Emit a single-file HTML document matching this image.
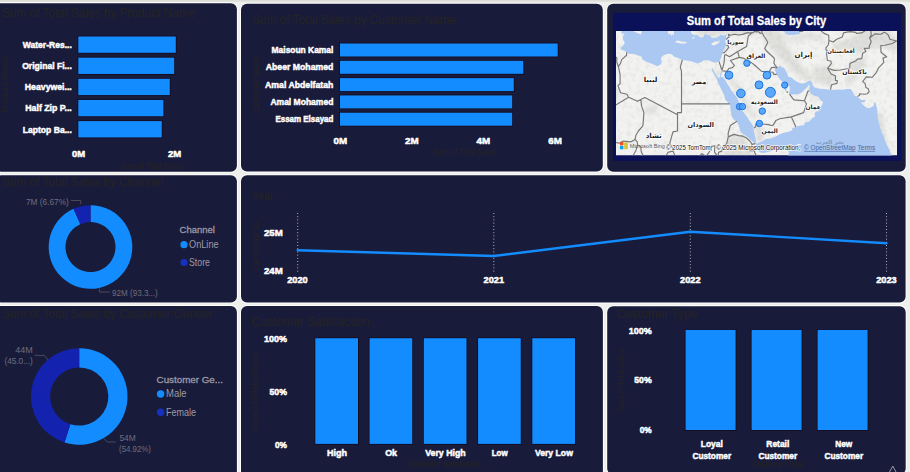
<!DOCTYPE html>
<html><head><meta charset="utf-8"><title>Dashboard</title>
<style>
html,body{margin:0;padding:0;background:#eeeeec;width:910px;height:472px;overflow:hidden}
svg{display:block;font-family:"Liberation Sans", sans-serif}
</style></head><body>
<svg width="910" height="472" viewBox="0 0 910 472">
<rect x="0" y="0" width="910" height="472" fill="#eeeeec"/>
<rect x="0" y="0" width="910" height="1.7" fill="#dcdcd8"/>
<rect x="-5.9" y="2.3000000000000003" width="243.70" height="170.30" rx="6.8" ry="6.8" fill="#ffffff"/>
<rect x="240.1" y="2.9" width="363.60" height="169.60" rx="6.8" ry="6.8" fill="#ffffff"/>
<rect x="606.3000000000001" y="2.9" width="300.30" height="169.80" rx="6.8" ry="6.8" fill="#ffffff"/>
<rect x="-5.9" y="174.4" width="243.70" height="128.90" rx="6.8" ry="6.8" fill="#ffffff"/>
<rect x="240.1" y="174.4" width="666.40" height="129.00" rx="6.8" ry="6.8" fill="#ffffff"/>
<rect x="-5.9" y="305.1" width="243.70" height="177.80" rx="6.8" ry="6.8" fill="#ffffff"/>
<rect x="240.1" y="305.20000000000005" width="363.70" height="177.70" rx="6.8" ry="6.8" fill="#ffffff"/>
<rect x="606.3000000000001" y="305.3" width="300.30" height="170.10" rx="6.8" ry="6.8" fill="#ffffff"/>
<rect x="-5" y="3.2" width="241.90" height="168.50" rx="6" ry="6" fill="#191b3a"/>
<rect x="241" y="3.8" width="361.80" height="167.80" rx="6" ry="6" fill="#191b3a"/>
<rect x="607.2" y="3.8" width="298.50" height="168.00" rx="6" ry="6" fill="#191b3a"/>
<rect x="-5" y="175.3" width="241.90" height="127.10" rx="6" ry="6" fill="#191b3a"/>
<rect x="241" y="175.3" width="664.60" height="127.20" rx="6" ry="6" fill="#191b3a"/>
<rect x="-5" y="306.0" width="241.90" height="176.00" rx="6" ry="6" fill="#191b3a"/>
<rect x="241" y="306.1" width="361.90" height="175.90" rx="6" ry="6" fill="#191b3a"/>
<rect x="607.2" y="306.2" width="298.50" height="168.30" rx="6" ry="6" fill="#191b3a"/>
<text x="2" y="16.5" font-size="12" font-weight="normal" fill="#252423" text-anchor="start" textLength="193.4" lengthAdjust="spacingAndGlyphs" >Sum of Total Sales by Product Name</text>
<rect x="77.50" y="35.70" width="99.10" height="17.90" fill="#140c20"/>
<rect x="78.30" y="36.50" width="97.50" height="16.30" fill="#128cff"/>
<text x="71.8" y="47.9" font-size="9.5" font-weight="bold" fill="#fff" text-anchor="end" textLength="49" lengthAdjust="spacingAndGlyphs" stroke="#ffffff" stroke-width="0.5" stroke-linejoin="round" >Water-Res...</text>
<rect x="77.50" y="56.85" width="97.50" height="17.90" fill="#140c20"/>
<rect x="78.30" y="57.65" width="95.90" height="16.30" fill="#128cff"/>
<text x="71.8" y="69.05" font-size="9.5" font-weight="bold" fill="#fff" text-anchor="end" textLength="49.6" lengthAdjust="spacingAndGlyphs" stroke="#ffffff" stroke-width="0.5" stroke-linejoin="round" >Original Fi...</text>
<rect x="77.50" y="78.00" width="93.10" height="17.90" fill="#140c20"/>
<rect x="78.30" y="78.80" width="91.50" height="16.30" fill="#128cff"/>
<text x="71.8" y="90.2" font-size="9.5" font-weight="bold" fill="#fff" text-anchor="end" textLength="47" lengthAdjust="spacingAndGlyphs" stroke="#ffffff" stroke-width="0.5" stroke-linejoin="round" >Heavywei...</text>
<rect x="77.50" y="99.15" width="86.70" height="17.90" fill="#140c20"/>
<rect x="78.30" y="99.95" width="85.10" height="16.30" fill="#128cff"/>
<text x="71.8" y="111.35" font-size="9.5" font-weight="bold" fill="#fff" text-anchor="end" textLength="46.5" lengthAdjust="spacingAndGlyphs" stroke="#ffffff" stroke-width="0.5" stroke-linejoin="round" >Half Zip P...</text>
<rect x="77.50" y="120.30" width="85.10" height="17.90" fill="#140c20"/>
<rect x="78.30" y="121.10" width="83.50" height="16.30" fill="#128cff"/>
<text x="71.8" y="132.5" font-size="9.5" font-weight="bold" fill="#fff" text-anchor="end" textLength="49" lengthAdjust="spacingAndGlyphs" stroke="#ffffff" stroke-width="0.5" stroke-linejoin="round" >Laptop Ba...</text>
<text x="78.5" y="157.4" font-size="9.5" font-weight="bold" fill="#fff" text-anchor="middle" textLength="13.2" lengthAdjust="spacingAndGlyphs" stroke="#ffffff" stroke-width="0.5" stroke-linejoin="round" >0M</text>
<text x="174.6" y="157.4" font-size="9.5" font-weight="bold" fill="#fff" text-anchor="middle" textLength="13.2" lengthAdjust="spacingAndGlyphs" stroke="#ffffff" stroke-width="0.5" stroke-linejoin="round" >2M</text>
<text x="120" y="168.6" font-size="8.2" font-weight="normal" fill="#252423" text-anchor="start" textLength="62.3" lengthAdjust="spacingAndGlyphs" >Sum of Total Sales</text>
<text transform="translate(8.4,84.7) rotate(-90)" font-size="8.2" fill="#252423" text-anchor="middle" textLength="55.9" lengthAdjust="spacingAndGlyphs">Product Name</text>
<text x="251.9" y="24.4" font-size="12" font-weight="normal" fill="#252423" text-anchor="start" textLength="204.3" lengthAdjust="spacingAndGlyphs" >Sum of Total Sales by Customer Name</text>
<rect x="339.20" y="42.70" width="219.30" height="14.60" fill="#140c20"/>
<rect x="340.00" y="43.50" width="217.70" height="13.00" fill="#128cff"/>
<text x="333.4" y="53.1" font-size="9.5" font-weight="bold" fill="#fff" text-anchor="end" textLength="61.8" lengthAdjust="spacingAndGlyphs" stroke="#ffffff" stroke-width="0.5" stroke-linejoin="round" >Maisoun Kamal</text>
<rect x="339.20" y="60.00" width="184.90" height="14.60" fill="#140c20"/>
<rect x="340.00" y="60.80" width="183.30" height="13.00" fill="#128cff"/>
<text x="333.4" y="70.4" font-size="9.5" font-weight="bold" fill="#fff" text-anchor="end" textLength="67.7" lengthAdjust="spacingAndGlyphs" stroke="#ffffff" stroke-width="0.5" stroke-linejoin="round" >Abeer Mohamed</text>
<rect x="339.20" y="77.30" width="175.40" height="14.60" fill="#140c20"/>
<rect x="340.00" y="78.10" width="173.80" height="13.00" fill="#128cff"/>
<text x="333.4" y="87.7" font-size="9.5" font-weight="bold" fill="#fff" text-anchor="end" textLength="68.3" lengthAdjust="spacingAndGlyphs" stroke="#ffffff" stroke-width="0.5" stroke-linejoin="round" >Amal Abdelfatah</text>
<rect x="339.20" y="94.60" width="173.80" height="14.60" fill="#140c20"/>
<rect x="340.00" y="95.40" width="172.20" height="13.00" fill="#128cff"/>
<text x="333.4" y="105.0" font-size="9.5" font-weight="bold" fill="#fff" text-anchor="end" textLength="63" lengthAdjust="spacingAndGlyphs" stroke="#ffffff" stroke-width="0.5" stroke-linejoin="round" >Amal Mohamed</text>
<rect x="339.20" y="111.90" width="173.80" height="14.60" fill="#140c20"/>
<rect x="340.00" y="112.70" width="172.20" height="13.00" fill="#128cff"/>
<text x="333.4" y="122.3" font-size="9.5" font-weight="bold" fill="#fff" text-anchor="end" textLength="58" lengthAdjust="spacingAndGlyphs" stroke="#ffffff" stroke-width="0.5" stroke-linejoin="round" >Essam Elsayad</text>
<text x="340.3" y="143.9" font-size="9.5" font-weight="bold" fill="#fff" text-anchor="middle" textLength="13.6" lengthAdjust="spacingAndGlyphs" stroke="#ffffff" stroke-width="0.5" stroke-linejoin="round" >0M</text>
<text x="411.8" y="143.9" font-size="9.5" font-weight="bold" fill="#fff" text-anchor="middle" textLength="13.6" lengthAdjust="spacingAndGlyphs" stroke="#ffffff" stroke-width="0.5" stroke-linejoin="round" >2M</text>
<text x="483.4" y="143.9" font-size="9.5" font-weight="bold" fill="#fff" text-anchor="middle" textLength="13.6" lengthAdjust="spacingAndGlyphs" stroke="#ffffff" stroke-width="0.5" stroke-linejoin="round" >4M</text>
<text x="555.1" y="143.9" font-size="9.5" font-weight="bold" fill="#fff" text-anchor="middle" textLength="13.6" lengthAdjust="spacingAndGlyphs" stroke="#ffffff" stroke-width="0.5" stroke-linejoin="round" >6M</text>
<text x="432.9" y="154.9" font-size="8.2" font-weight="normal" fill="#252423" text-anchor="start" textLength="63.3" lengthAdjust="spacingAndGlyphs" >Sum of Total Sales</text>
<text transform="translate(258.7,85.3) rotate(-90)" font-size="8.2" fill="#252423" text-anchor="middle" textLength="56.3" lengthAdjust="spacingAndGlyphs">Customer Name</text>
<text x="2" y="185.5" font-size="12" font-weight="normal" fill="#252423" text-anchor="start" textLength="161" lengthAdjust="spacingAndGlyphs" >Sum of Total Sales by Channel</text>
<path d="M90.50,205.20 A41.8,41.8 0 1 1 73.50,208.81 L80.33,224.16 A25,25 0 1 0 90.50,222.00 Z" fill="#128cff"/>
<path d="M73.50,208.81 A41.8,41.8 0 0 1 90.50,205.20 L90.50,222.00 A25,25 0 0 0 80.33,224.16 Z" fill="#1323b0"/>
<text x="26" y="204.8" font-size="8.5" font-weight="normal" fill="#6e6e7c" text-anchor="start" textLength="42.8" lengthAdjust="spacingAndGlyphs" >7M (6.67%)</text>
<path d="M71,200.5 H80.7 V204" fill="none" stroke="#55566a" stroke-width="0.8"/>
<text x="112" y="295.5" font-size="8.5" font-weight="normal" fill="#6e6e7c" text-anchor="start" textLength="45.8" lengthAdjust="spacingAndGlyphs" >92M (93.3...)</text>
<path d="M99.4,288.6 V292 H109.8" fill="none" stroke="#55566a" stroke-width="0.8"/>
<text x="179.5" y="232.5" font-size="9.9" font-weight="normal" fill="#9a9aa8" text-anchor="start" textLength="35.5" lengthAdjust="spacingAndGlyphs" stroke="#9a9aa8" stroke-width="0.3">Channel</text>
<circle cx="184" cy="244.7" r="3.6" fill="#128cff"/>
<text x="189" y="248" font-size="10.4" font-weight="normal" fill="#9a9aa8" text-anchor="start" textLength="29.6" lengthAdjust="spacingAndGlyphs" >OnLine</text>
<circle cx="184" cy="262.5" r="3.6" fill="#1630c0"/>
<text x="189" y="265.8" font-size="10.4" font-weight="normal" fill="#9a9aa8" text-anchor="start" textLength="21" lengthAdjust="spacingAndGlyphs" >Store</text>
<text x="252.6" y="200" font-size="12" font-weight="normal" fill="#252423" text-anchor="start" textLength="20.9" lengthAdjust="spacingAndGlyphs" >Year</text>
<line x1="297.7" y1="213" x2="297.7" y2="273" stroke="#c8c8d0" stroke-width="0.9" stroke-dasharray="1 2.2"/>
<line x1="493.8" y1="213" x2="493.8" y2="273" stroke="#c8c8d0" stroke-width="0.9" stroke-dasharray="1 2.2"/>
<line x1="690.3" y1="213" x2="690.3" y2="273" stroke="#c8c8d0" stroke-width="0.9" stroke-dasharray="1 2.2"/>
<line x1="886.5" y1="213" x2="886.5" y2="273" stroke="#c8c8d0" stroke-width="0.9" stroke-dasharray="1 2.2"/>
<polyline points="297.7,250.3 493.8,256 690.3,231.7 886.5,243.2" fill="none" stroke="#128cff" stroke-width="2.4" stroke-linejoin="round" stroke-linecap="round"/>
<text x="264" y="236.2" font-size="9.5" font-weight="bold" fill="#fff" text-anchor="start" textLength="18.7" lengthAdjust="spacingAndGlyphs" stroke="#ffffff" stroke-width="0.5" stroke-linejoin="round" >25M</text>
<text x="264" y="274.3" font-size="9.5" font-weight="bold" fill="#fff" text-anchor="start" textLength="18.7" lengthAdjust="spacingAndGlyphs" stroke="#ffffff" stroke-width="0.5" stroke-linejoin="round" >24M</text>
<text x="297.5" y="283.3" font-size="9.5" font-weight="bold" fill="#fff" text-anchor="middle" textLength="20.5" lengthAdjust="spacingAndGlyphs" stroke="#ffffff" stroke-width="0.5" stroke-linejoin="round" >2020</text>
<text x="493.8" y="283.3" font-size="9.5" font-weight="bold" fill="#fff" text-anchor="middle" textLength="20.5" lengthAdjust="spacingAndGlyphs" stroke="#ffffff" stroke-width="0.5" stroke-linejoin="round" >2021</text>
<text x="690.3" y="283.3" font-size="9.5" font-weight="bold" fill="#fff" text-anchor="middle" textLength="20.5" lengthAdjust="spacingAndGlyphs" stroke="#ffffff" stroke-width="0.5" stroke-linejoin="round" >2022</text>
<text x="886.5" y="283.3" font-size="9.5" font-weight="bold" fill="#fff" text-anchor="middle" textLength="20.5" lengthAdjust="spacingAndGlyphs" stroke="#ffffff" stroke-width="0.5" stroke-linejoin="round" >2023</text>
<text transform="translate(259,244) rotate(-90)" font-size="8.2" fill="#252423" text-anchor="middle" textLength="55" lengthAdjust="spacingAndGlyphs">Sum of Total Sa...</text>
<text x="2" y="318" font-size="12" font-weight="normal" fill="#252423" text-anchor="start" textLength="211" lengthAdjust="spacingAndGlyphs" >Sum of Total Sales by Customer Gender</text>
<path d="M79.20,348.20 A48.3,48.3 0 1 1 64.51,442.51 L70.35,424.22 A29.1,29.1 0 1 0 79.20,367.40 Z" fill="#128cff"/>
<path d="M64.51,442.51 A48.3,48.3 0 0 1 79.20,348.20 L79.20,367.40 A29.1,29.1 0 0 0 70.35,424.22 Z" fill="#1323b0"/>
<text x="32.8" y="353" font-size="8.5" font-weight="normal" fill="#6e6e7c" text-anchor="end" textLength="17.5" lengthAdjust="spacingAndGlyphs" >44M</text>
<text x="32.8" y="364.3" font-size="8.5" font-weight="normal" fill="#6e6e7c" text-anchor="end" textLength="28.4" lengthAdjust="spacingAndGlyphs" >(45.0...)</text>
<path d="M34.6,355.4 H44.4 L48,360" fill="none" stroke="#55566a" stroke-width="0.8"/>
<text x="119.4" y="440.8" font-size="8.5" font-weight="normal" fill="#6e6e7c" text-anchor="start" textLength="16.4" lengthAdjust="spacingAndGlyphs" >54M</text>
<text x="119" y="452.4" font-size="8.5" font-weight="normal" fill="#6e6e7c" text-anchor="start" textLength="32" lengthAdjust="spacingAndGlyphs" >(54.92%)</text>
<path d="M103.8,438.4 L107.4,442 H115.8" fill="none" stroke="#55566a" stroke-width="0.8"/>
<text x="156.6" y="382.6" font-size="9.7" font-weight="normal" fill="#9a9aa8" text-anchor="start" textLength="66.3" lengthAdjust="spacingAndGlyphs" stroke="#9a9aa8" stroke-width="0.3">Customer Ge...</text>
<circle cx="160.6" cy="394" r="3.7" fill="#128cff"/>
<text x="166" y="397.3" font-size="10.4" font-weight="normal" fill="#9a9aa8" text-anchor="start" textLength="20.5" lengthAdjust="spacingAndGlyphs" >Male</text>
<circle cx="160.6" cy="412.2" r="3.7" fill="#1630c0"/>
<text x="166" y="415.5" font-size="10.4" font-weight="normal" fill="#9a9aa8" text-anchor="start" textLength="30" lengthAdjust="spacingAndGlyphs" >Female</text>
<text x="251.6" y="325.6" font-size="12" font-weight="normal" fill="#252423" text-anchor="start" textLength="118" lengthAdjust="spacingAndGlyphs" >Customer Satisfaction</text>
<rect x="314.50" y="337.40" width="44.30" height="107.30" fill="#140c20"/>
<rect x="315.30" y="338.20" width="42.70" height="105.70" fill="#128cff"/>
<text x="336.9" y="455.6" font-size="9.5" font-weight="bold" fill="#fff" text-anchor="middle" textLength="20" lengthAdjust="spacingAndGlyphs" stroke="#ffffff" stroke-width="0.5" stroke-linejoin="round" >High</text>
<rect x="368.75" y="337.40" width="44.30" height="107.30" fill="#140c20"/>
<rect x="369.55" y="338.20" width="42.70" height="105.70" fill="#128cff"/>
<text x="391.15" y="455.6" font-size="9.5" font-weight="bold" fill="#fff" text-anchor="middle" textLength="11.9" lengthAdjust="spacingAndGlyphs" stroke="#ffffff" stroke-width="0.5" stroke-linejoin="round" >Ok</text>
<rect x="423.00" y="337.40" width="44.30" height="107.30" fill="#140c20"/>
<rect x="423.80" y="338.20" width="42.70" height="105.70" fill="#128cff"/>
<text x="445.4" y="455.6" font-size="9.5" font-weight="bold" fill="#fff" text-anchor="middle" textLength="40.4" lengthAdjust="spacingAndGlyphs" stroke="#ffffff" stroke-width="0.5" stroke-linejoin="round" >Very High</text>
<rect x="477.25" y="337.40" width="44.30" height="107.30" fill="#140c20"/>
<rect x="478.05" y="338.20" width="42.70" height="105.70" fill="#128cff"/>
<text x="499.65" y="455.6" font-size="9.5" font-weight="bold" fill="#fff" text-anchor="middle" textLength="16" lengthAdjust="spacingAndGlyphs" stroke="#ffffff" stroke-width="0.5" stroke-linejoin="round" >Low</text>
<rect x="531.50" y="337.40" width="44.30" height="107.30" fill="#140c20"/>
<rect x="532.30" y="338.20" width="42.70" height="105.70" fill="#128cff"/>
<text x="553.9" y="455.6" font-size="9.5" font-weight="bold" fill="#fff" text-anchor="middle" textLength="38" lengthAdjust="spacingAndGlyphs" stroke="#ffffff" stroke-width="0.5" stroke-linejoin="round" >Very Low</text>
<text x="287" y="342.3" font-size="9.5" font-weight="bold" fill="#fff" text-anchor="end" textLength="23" lengthAdjust="spacingAndGlyphs" stroke="#ffffff" stroke-width="0.5" stroke-linejoin="round" >100%</text>
<text x="287" y="394.5" font-size="9.5" font-weight="bold" fill="#fff" text-anchor="end" textLength="17.5" lengthAdjust="spacingAndGlyphs" stroke="#ffffff" stroke-width="0.5" stroke-linejoin="round" >50%</text>
<text x="287" y="447.6" font-size="9.5" font-weight="bold" fill="#fff" text-anchor="end" textLength="12" lengthAdjust="spacingAndGlyphs" stroke="#ffffff" stroke-width="0.5" stroke-linejoin="round" >0%</text>
<text x="407.7" y="466.5" font-size="8.2" font-weight="normal" fill="#252423" text-anchor="start" textLength="74.6" lengthAdjust="spacingAndGlyphs" >Customer Satisfaction</text>
<text transform="translate(258.3,391) rotate(-90)" font-size="8.2" fill="#252423" text-anchor="middle" textLength="79" lengthAdjust="spacingAndGlyphs">Count of Product Name</text>
<text x="616.4" y="318" font-size="12" font-weight="normal" fill="#252423" text-anchor="start" textLength="81" lengthAdjust="spacingAndGlyphs" >Customer Type</text>
<rect x="684.80" y="329.10" width="51.60" height="101.70" fill="#140c20"/>
<rect x="685.60" y="329.90" width="50.00" height="100.10" fill="#128cff"/>
<text x="711.8" y="446.9" font-size="9.5" font-weight="bold" fill="#fff" text-anchor="middle" textLength="22" lengthAdjust="spacingAndGlyphs" stroke="#ffffff" stroke-width="0.5" stroke-linejoin="round" >Loyal</text>
<text x="711.8" y="458.5" font-size="9.5" font-weight="bold" fill="#fff" text-anchor="middle" textLength="38.8" lengthAdjust="spacingAndGlyphs" stroke="#ffffff" stroke-width="0.5" stroke-linejoin="round" >Customer</text>
<rect x="750.80" y="329.10" width="51.60" height="101.70" fill="#140c20"/>
<rect x="751.60" y="329.90" width="50.00" height="100.10" fill="#128cff"/>
<text x="777.8" y="446.9" font-size="9.5" font-weight="bold" fill="#fff" text-anchor="middle" textLength="23" lengthAdjust="spacingAndGlyphs" stroke="#ffffff" stroke-width="0.5" stroke-linejoin="round" >Retail</text>
<text x="777.8" y="458.5" font-size="9.5" font-weight="bold" fill="#fff" text-anchor="middle" textLength="38.8" lengthAdjust="spacingAndGlyphs" stroke="#ffffff" stroke-width="0.5" stroke-linejoin="round" >Customer</text>
<rect x="816.80" y="329.10" width="51.60" height="101.70" fill="#140c20"/>
<rect x="817.60" y="329.90" width="50.00" height="100.10" fill="#128cff"/>
<text x="843.8" y="446.9" font-size="9.5" font-weight="bold" fill="#fff" text-anchor="middle" textLength="17" lengthAdjust="spacingAndGlyphs" stroke="#ffffff" stroke-width="0.5" stroke-linejoin="round" >New</text>
<text x="843.8" y="458.5" font-size="9.5" font-weight="bold" fill="#fff" text-anchor="middle" textLength="38.8" lengthAdjust="spacingAndGlyphs" stroke="#ffffff" stroke-width="0.5" stroke-linejoin="round" >Customer</text>
<text x="651.7" y="333.5" font-size="9.5" font-weight="bold" fill="#fff" text-anchor="end" textLength="23" lengthAdjust="spacingAndGlyphs" stroke="#ffffff" stroke-width="0.5" stroke-linejoin="round" >100%</text>
<text x="651.7" y="383.1" font-size="9.5" font-weight="bold" fill="#fff" text-anchor="end" textLength="17.5" lengthAdjust="spacingAndGlyphs" stroke="#ffffff" stroke-width="0.5" stroke-linejoin="round" >50%</text>
<text x="651.7" y="433.3" font-size="9.5" font-weight="bold" fill="#fff" text-anchor="end" textLength="12" lengthAdjust="spacingAndGlyphs" stroke="#ffffff" stroke-width="0.5" stroke-linejoin="round" >0%</text>
<text x="752" y="467.3" font-size="8.2" font-weight="normal" fill="#252423" text-anchor="start" textLength="52.2" lengthAdjust="spacingAndGlyphs" >Customer Type</text>
<text transform="translate(624.4,380) rotate(-90)" font-size="8.2" fill="#252423" text-anchor="middle" textLength="62" lengthAdjust="spacingAndGlyphs">Sum of Total Sales</text>
<path d="M889.5,472 L892.8,466 L896,472" fill="none" stroke="#9a9aa8" stroke-width="1"/>
<g id="map">
<rect x="613.1" y="12.8" width="288" height="148" fill="#0b1158"/>
<text x="686.8" y="25.3" font-size="13.6" font-weight="bold" fill="#fff" stroke="#fff" stroke-width="0.3" textLength="139.5" lengthAdjust="spacingAndGlyphs">Sum of Total Sales by City</text>
<defs><clipPath id="mc"><rect x="616" y="31" width="281" height="124.4"/></clipPath><filter id="bl" x="-20%" y="-20%" width="140%" height="140%"><feGaussianBlur stdDeviation="2.2"/></filter><filter id="bl1" x="-20%" y="-20%" width="140%" height="140%"><feGaussianBlur stdDeviation="0.7"/></filter><filter id="tx" x="0" y="0" width="100%" height="100%"><feTurbulence type="fractalNoise" baseFrequency="0.22" numOctaves="3" seed="7"/><feColorMatrix type="matrix" values="0 0 0 0 0.5  0 0 0 0 0.5  0 0 0 0 0.5  0 0 0 -1.6 0.85"/></filter></defs>
<g clip-path="url(#mc)">
<rect x="616" y="31" width="281" height="124.5" fill="#f2f2f0"/>
<rect x="616" y="31" width="281" height="124.5" fill="#000" filter="url(#tx)" opacity="0.35"/>
<g filter="url(#bl)" fill="#9a9a98" fill-opacity="0.22">
<polygon points="760.9,28.3 775.1,28.3 783.3,41.0 795.5,58.1 807.7,72.3 815.8,79.2 809.7,80.2 795.5,74.6 785.3,62.9 773.1,50.9 765.0,41.0"/>
<polygon points="777.2,32.4 791.4,37.5 807.7,32.4 824.0,36.0 824.0,41.0 807.7,38.5 791.4,41.5 779.2,37.0"/>
<polygon points="832.1,43.5 848.4,38.5 864.7,29.3 885.0,29.3 897.2,38.5 897.2,53.3 881.0,46.0 868.7,48.4 860.6,53.3 848.4,50.9 836.2,50.9"/>
<polygon points="848.4,65.3 862.6,55.7 866.7,62.9 856.5,76.9 850.4,86.1 844.3,83.8 850.4,74.6"/>
<polygon points="811.8,67.6 828.0,65.3 836.2,76.9 828.0,86.1 815.8,81.5"/>
<polygon points="726.3,28.3 760.9,28.3 758.9,34.4 742.6,33.9 728.3,34.4"/>
<polygon points="691.7,28.3 726.3,28.3 726.3,33.9 712.1,37.0 699.8,36.5"/>
<polygon points="728.3,136.1 742.6,134.8 750.7,146.5 754.8,158.9 722.2,158.9 724.3,146.5"/>
<polygon points="752.8,123.4 760.9,125.5 765.0,136.1 760.9,142.4 756.4,141.5 755.2,131.9"/>
<polygon points="728.3,79.2 736.5,90.6 744.6,106.1 752.8,119.1 756.8,117.8 748.7,103.9 740.5,88.3 732.4,76.9"/>
<polygon points="808.5,86.1 811.8,92.8 821.1,100.4 820.7,102.1 813.0,98.2 807.7,92.8"/>
<polygon points="715.3,70.0 720.6,70.0 719.4,77.4 716.1,74.6"/>
<polygon points="644.9,106.1 657.1,106.1 657.1,113.5 646.9,114.8"/>
<polygon points="600.1,86.1 618.4,88.3 618.4,99.5 600.1,103.9"/>
<polygon points="724.7,45.5 728.7,46.0 726.7,52.3 724.3,52.3"/>
<polygon points="876.9,112.6 881.8,112.6 887.1,142.4 892.4,158.9 888.7,158.9 882.6,140.3 877.7,125.5"/>
</g>
<path d="M621.5,27.3 L621.5,31.9 L621.7,33.9 L624.8,33.2 L622.7,36.5 L622.9,39.5 L624.8,42.5 L623.7,45.0 L620.9,47.4 L620.7,49.4 L624.1,50.4 L626.6,52.3 L629.8,54.0 L633.5,53.8 L638.0,55.5 L641.2,56.2 L642.5,59.6 L647.3,62.0 L653.0,64.3 L657.5,66.2 L660.8,64.3 L661.6,61.5 L661.0,57.7 L663.6,55.2 L668.1,53.8 L671.8,54.3 L674.2,56.7 L677.5,57.7 L682.3,60.0 L686.8,60.5 L690.5,61.0 L697.4,63.4 L701.5,62.0 L703.5,60.5 L706.4,60.0 L709.2,60.5 L711.2,61.5 L714.5,62.4 L717.3,62.2 L719.4,61.0 L721.2,57.9 L722.2,54.3 L722.6,52.8 L724.3,48.9 L725.5,46.2 L726.1,45.0 L725.3,41.0 L725.9,38.5 L726.1,37.0 L727.1,33.9 L724.7,35.5 L723.4,35.5 L720.6,34.7 L718.6,36.5 L716.9,37.5 L713.7,38.0 L711.6,37.7 L710.0,35.7 L705.9,34.2 L704.3,34.4 L703.7,37.0 L701.5,37.5 L699.0,37.0 L698.2,35.2 L696.2,35.0 L693.7,34.7 L691.3,33.4 L690.9,27.3 Z M712.3,67.9 L711.6,69.5 L712.7,71.8 L714.5,75.3 L716.3,77.9 L717.3,80.4 L718.0,82.7 L719.4,85.6 L721.8,90.4 L724.3,95.5 L725.1,99.5 L728.7,103.0 L730.0,103.9 L730.4,108.3 L731.2,114.3 L731.8,116.5 L734.0,119.9 L736.9,121.2 L739.3,127.2 L740.3,131.4 L741.8,133.1 L743.8,134.4 L747.5,136.9 L750.7,139.8 L753.6,142.4 L756.0,144.4 L756.0,146.7 L753.6,148.4 L755.4,148.2 L756.8,149.2 L759.7,152.3 L762.9,153.0 L769.0,151.7 L773.1,150.3 L776.0,150.1 L780.0,149.4 L783.3,148.6 L786.3,146.6 L788.5,147.2 L787.8,150.3 L789.0,153.0 L787.3,157.7 L892.1,157.7 L891.3,155.0 L889.3,149.6 L885.8,142.8 L883.6,136.1 L881.6,131.9 L879.5,125.5 L877.7,116.9 L877.3,111.8 L876.9,107.8 L876.1,105.2 L875.3,101.7 L874.0,103.5 L873.6,106.1 L869.2,108.3 L866.1,107.6 L863.0,104.8 L860.6,102.1 L862.2,102.4 L864.7,101.7 L865.9,99.7 L862.0,100.2 L859.4,98.6 L857.4,96.8 L854.5,95.5 L852.5,91.5 L850.8,89.0 L846.4,89.0 L842.7,89.7 L838.2,89.5 L833.3,89.9 L830.5,89.7 L826.4,89.2 L819.9,88.8 L815.0,87.7 L812.6,85.2 L812.2,82.4 L811.0,81.1 L808.9,80.8 L806.1,82.4 L803.2,83.6 L799.6,82.9 L796.7,81.5 L793.9,79.7 L791.6,77.6 L788.6,76.9 L786.7,72.5 L785.7,70.4 L783.9,67.4 L781.6,67.2 L780.0,65.5 L778.8,66.2 L777.6,67.9 L776.0,68.1 L774.3,70.4 L775.5,70.9 L776.0,72.8 L777.2,75.1 L778.8,77.9 L780.4,79.7 L781.9,81.5 L783.9,82.9 L784.1,84.7 L783.9,87.9 L785.3,90.6 L786.3,91.7 L786.5,88.8 L787.3,86.1 L788.4,85.4 L789.8,86.5 L789.6,89.2 L789.8,90.8 L788.8,92.4 L789.8,94.2 L790.4,94.8 L793.9,94.2 L797.5,94.6 L801.2,93.0 L804.8,89.4 L807.5,87.0 L808.3,85.2 L809.3,84.5 L809.7,86.5 L809.1,89.9 L810.7,93.5 L814.2,95.7 L818.3,96.8 L820.3,99.9 L821.9,101.3 L823.2,101.7 L821.9,105.2 L819.1,108.7 L818.3,110.9 L815.4,111.8 L814.6,114.1 L815.0,116.9 L813.0,117.4 L810.1,120.4 L809.3,121.7 L805.3,122.3 L803.6,125.5 L800.0,125.5 L795.9,127.0 L792.2,128.3 L792.2,130.2 L788.2,131.9 L784.1,132.7 L779.6,134.2 L776.0,136.5 L770.7,138.4 L765.8,139.0 L762.9,141.1 L758.9,142.4 L756.6,143.8 L755.8,141.1 L755.6,138.2 L754.6,134.8 L754.0,131.4 L753.0,125.9 L751.5,123.4 L749.1,119.9 L746.9,116.4 L743.6,112.0 L740.9,110.0 L739.1,106.1 L738.5,100.4 L736.5,96.8 L734.6,94.6 L731.2,90.4 L730.0,87.4 L728.1,85.0 L725.1,79.9 L723.0,77.2 L720.6,76.9 L721.4,74.2 L721.9,70.9 L722.1,69.7 L721.4,70.7 L720.9,72.3 L720.3,74.6 L719.6,77.4 L719.2,78.2 L716.5,75.8 L714.5,72.1 L712.9,69.5 L712.5,67.9 Z M778.6,27.3 L779.2,30.1 L781.2,31.0 L784.1,31.6 L785.9,33.9 L789.0,35.1 L794.1,35.0 L797.9,34.2 L799.6,34.2 L799.4,31.6 L798.9,27.3 Z" fill="#aac8f2"/>
<path d="M631.1,27.3 L631.9,30.6 L635.1,32.1 L638.4,33.4 L641.0,34.4 L641.6,32.7 L641.4,27.3 Z" fill="#f0f0ee"/>
<path d="M667.3,27.3 L668.1,33.7 L668.9,34.2 L670.1,33.4 L671.1,35.7 L672.4,34.2 L673.8,35.7 L673.8,32.7 L675.0,27.3 Z" fill="#f0f0ee"/>
<path d="M675.6,41.2 L677.9,40.5 L681.5,41.5 L686.8,42.0 L686.4,43.2 L681.5,43.7 L677.5,42.7 L675.6,42.5 Z" fill="#f0f0ee"/>
<path d="M711.2,43.2 L713.7,42.5 L714.1,41.5 L717.8,41.5 L720.6,40.0 L718.2,43.5 L716.5,44.2 L714.1,45.5 L712.1,45.0 Z" fill="#f0f0ee"/>
<path d="M692.5,37.7 L694.6,36.2 L694.1,38.5 L692.7,39.0 Z" fill="#f0f0ee"/>
<path d="M796.7,144.2 L798.7,143.8 L801.6,144.2 L800.4,145.1 L797.5,145.3 Z" fill="#f0f0ee"/>
<path d="M818.5,110.0 L819.7,110.2 L818.7,112.0 Z" fill="#f0f0ee"/>
<path d="M626.6,52.3 L626.6,55.2 L621.7,59.6 L620.5,63.4 L618.4,66.7 M618.4,66.7 L616.8,62.0 L616.8,57.7 L613.6,55.7 M618.4,66.7 L620.1,74.6 L620.1,83.8 L618.0,85.6 L620.5,92.8 L627.0,94.2 L628.6,97.3 M628.6,97.3 L612.3,107.0 M628.6,97.3 L637.6,101.3 L640.8,99.5 M640.8,99.5 L644.9,97.5 L677.5,114.8 M677.5,114.8 L677.5,112.6 L681.5,112.6 L681.5,103.9 M681.5,103.9 L681.5,71.4 L680.3,67.2 L682.3,60.0 M681.5,103.9 L730.0,103.9 M640.8,99.5 L641.6,106.1 L643.9,112.6 L643.3,121.2 L642.9,125.9 L638.4,131.0 L635.9,135.2 L635.1,139.4 M677.5,114.8 L677.5,131.0 L673.0,131.9 L671.4,137.3 L669.7,143.6 L673.0,149.0 L673.0,151.1 M673.0,151.1 L668.1,152.3 L664.8,157.7 M673.0,151.1 L675.8,157.7 M635.1,139.4 L630.7,141.9 L623.3,141.1 L618.8,143.2 L612.3,141.5 M635.1,139.4 L637.2,141.9 L637.6,144.9 L639.2,145.7 L640.8,146.9 L641.2,151.5 L642.9,155.2 L637.6,157.7 M637.6,144.9 L635.9,150.7 L633.5,154.8 L632.3,157.7 M680.7,157.7 L687.6,156.9 L693.3,156.5 L697.0,157.3 L699.8,155.6 L701.9,153.6 L705.1,155.8 L706.8,155.6 L710.0,150.7 L711.6,147.8 L711.2,146.5 L714.9,145.7 L714.5,151.9 L717.8,156.9 M717.8,156.9 L718.6,152.3 L721.8,151.1 L722.6,147.4 L726.7,143.6 L728.3,136.9 M728.3,136.9 L728.1,133.5 L730.4,125.5 L736.9,121.2 M728.3,136.9 L734.0,134.4 L738.5,135.6 L742.6,136.1 L746.2,137.7 L749.5,140.7 L752.3,144.4 M755.2,143.6 L752.3,144.4 L749.9,148.2 L749.9,150.7 L754.4,150.8 L755.8,148.7 M754.4,150.8 L754.8,152.7 L757.2,157.7 M754.0,128.0 L755.6,126.8 L756.0,123.8 L759.7,123.8 L764.6,124.2 L768.6,124.6 L771.1,125.5 L773.1,125.1 L776.0,120.4 L779.6,118.7 L791.4,116.9 M791.4,116.9 L795.9,127.0 M791.4,116.9 L803.6,112.6 L806.5,103.9 L804.4,100.8 M804.4,100.8 L793.9,99.9 L789.8,94.6 L789.8,93.9 M804.4,100.8 L806.9,94.2 L807.7,91.5 L809.1,90.8 M786.5,91.7 L788.2,92.4 M776.8,74.4 L773.9,74.4 L772.9,72.3 L769.2,71.8 M769.2,71.8 L771.5,67.6 L773.9,67.2 L775.1,67.6 L776.8,67.9 M769.2,71.8 L761.7,71.4 L754.8,65.3 L751.1,62.4 L744.2,58.4 L739.3,57.4 M739.3,57.4 L730.4,60.5 L734.4,65.3 L732.4,67.6 L729.3,68.2 L726.7,71.4 L722.0,70.7 M739.3,57.4 L737.7,51.5 M737.7,51.5 L729.6,56.7 L725.9,54.8 L724.7,54.8 M724.7,54.8 L724.5,56.2 L724.3,60.5 L723.9,63.4 L722.2,69.7 M721.8,70.0 L719.2,61.9 L719.1,61.4 M722.6,52.9 L724.3,52.8 L724.7,52.1 M724.7,52.1 L726.5,50.4 L728.7,47.4 L727.9,45.5 L726.2,45.2 M737.7,51.5 L746.6,46.5 L747.5,40.5 L748.3,36.0 L752.1,32.9 M726.0,38.8 L726.9,39.5 L727.9,37.5 L729.1,37.2 L728.5,34.4 L730.8,35.2 L734.4,34.2 L738.5,35.0 L742.6,34.4 L746.6,32.9 L752.1,32.9 M752.1,32.9 L754.8,31.6 L758.9,31.9 L760.1,33.4 L762.1,32.7 M762.1,32.7 L764.1,36.5 L766.2,39.5 L767.8,42.5 L764.6,48.4 L766.2,50.4 L767.8,52.3 L773.9,57.7 L774.5,59.1 L773.9,62.9 L775.1,65.3 L777.4,67.9 M762.1,32.7 L760.9,27.3 M799.1,31.6 L802.8,31.1 L804.8,27.3 M818.3,27.3 L821.1,30.9 L824.0,33.4 L828.7,35.2 L828.9,40.5 M828.9,40.5 L828.5,44.5 L826.0,47.9 L826.0,50.1 L827.6,50.9 L826.4,52.8 L827.4,60.5 L830.9,61.0 L831.3,63.6 L827.5,68.3 M827.5,68.3 L831.3,74.2 L835.4,75.8 L835.4,80.4 L837.4,80.8 L837.0,83.4 L833.3,84.3 L831.5,84.9 L830.5,89.7 M827.5,68.3 L834.2,70.4 L840.3,70.0 L849.6,68.3 L850.0,63.4 L855.7,61.0 L857.4,59.1 L861.8,58.6 L862.6,53.3 L865.9,51.6 L864.3,48.4 L869.2,48.2 L869.2,46.5 L871.2,41.5 L869.6,38.0 L874.9,33.9 L881.0,34.2 L884.6,32.1 M828.9,40.5 L833.3,42.0 L836.6,39.2 L842.3,37.0 L843.5,32.9 L846.8,32.1 L850.4,31.6 L855.7,32.4 L856.5,33.4 L861.8,32.9 L865.5,30.4 L865.9,27.3 M869.6,38.0 L871.2,35.0 L870.8,28.8 M884.6,32.1 L888.3,35.0 L889.9,39.2 L896.4,41.0 L899.7,41.5 M857.4,96.4 L859.6,95.3 L859.6,93.7 L864.7,94.2 L867.1,93.7 L869.2,91.9 L868.3,88.8 L865.9,87.4 L865.1,83.4 L862.6,81.5 L866.3,76.9 L872.4,77.2 L876.5,72.3 L878.5,67.9 L881.0,65.3 L883.8,62.4 L883.0,58.1 L886.7,56.7 L883.4,54.3 L881.0,52.3 L880.8,45.5 L885.0,45.2 L892.4,43.5 L896.4,41.0" fill="none" stroke="#777777" stroke-width="1.15" stroke-linejoin="round"/>
<g font-family="'DejaVu Sans', sans-serif" font-weight="bold" fill="#1c1c1c" stroke="#ffffff" stroke-opacity="0.85" stroke-width="1.8" stroke-linejoin="round" paint-order="stroke" text-anchor="middle" direction="rtl">
<text x="735.5" y="44" font-size="5.6">سوريا</text>
<text x="756" y="58.2" font-size="6">العراق</text>
<text x="803.5" y="56.55" font-size="7">إيران</text>
<text x="841" y="52.5" font-size="5.5">أفغانستان</text>
<text x="854.5" y="74.3" font-size="6.2">باكستان</text>
<text x="650.5" y="81.85" font-size="6.9">ليبيا</text>
<text x="699" y="83.9" font-size="6.5">مصر</text>
<text x="764.3" y="103.9" font-size="6.1">السعودية</text>
<text x="813.2" y="109.05" font-size="6">عمان</text>
<text x="700.7" y="127.3" font-size="6.5">السودان</text>
<text x="769.7" y="132.8" font-size="6">اليمن</text>
<text x="653.7" y="138.1" font-size="7">تشاد</text>
</g>
<text x="829.9" y="143.7" font-size="5.6" font-family="'DejaVu Sans', sans-serif" font-weight="bold" fill="#7e9ac6" text-anchor="middle" direction="rtl">بحر العرب</text>
<circle cx="746.9" cy="63.2" r="3.2" fill="#4a9ffb" fill-opacity="0.9" stroke="#1a74e2" stroke-width="1"/>
<circle cx="728.9" cy="75.2" r="4.0" fill="#4a9ffb" fill-opacity="0.9" stroke="#1a74e2" stroke-width="1"/>
<circle cx="767" cy="75.2" r="3.9" fill="#4a9ffb" fill-opacity="0.9" stroke="#1a74e2" stroke-width="1"/>
<circle cx="759" cy="84.9" r="4.0" fill="#4a9ffb" fill-opacity="0.9" stroke="#1a74e2" stroke-width="1"/>
<circle cx="784.7" cy="85.1" r="3.1" fill="#4a9ffb" fill-opacity="0.9" stroke="#1a74e2" stroke-width="1"/>
<circle cx="740.9" cy="93.4" r="4.3" fill="#4a9ffb" fill-opacity="0.9" stroke="#1a74e2" stroke-width="1"/>
<circle cx="770.4" cy="92.3" r="5.0" fill="#4a9ffb" fill-opacity="0.9" stroke="#1a74e2" stroke-width="1"/>
<circle cx="739.6" cy="106.6" r="3.2" fill="#4a9ffb" fill-opacity="0.9" stroke="#1a74e2" stroke-width="1"/>
<circle cx="742.5" cy="106.6" r="3.2" fill="#4a9ffb" fill-opacity="0.9" stroke="#1a74e2" stroke-width="1"/>
<circle cx="762.3" cy="111.1" r="3.2" fill="#4a9ffb" fill-opacity="0.9" stroke="#1a74e2" stroke-width="1"/>
<circle cx="759.4" cy="123.5" r="3.2" fill="#4a9ffb" fill-opacity="0.9" stroke="#1a74e2" stroke-width="1"/>
<g filter="url(#bl1)"><rect x="620" y="142" width="3.4" height="3.4" fill="#f25022"/><rect x="624.2" y="142.4" width="3.6" height="6.8" fill="#d9c23a"/><rect x="620" y="145.9" width="3.4" height="3.4" fill="#00a4ef"/></g>
<text x="629.8" y="147.9" font-size="5.8" fill="#5c5c5c" textLength="35" lengthAdjust="spacingAndGlyphs">Microsoft Bing</text>
<text x="666.1" y="150.2" font-size="6.5" fill="#111" textLength="46.1" lengthAdjust="spacingAndGlyphs" stroke="#ffffff" stroke-width="1.6" stroke-opacity="0.8" paint-order="stroke" stroke-linejoin="round">© 2025 TomTom,</text>
<text x="716.2" y="150.2" font-size="6.5" fill="#111" textLength="84.2" lengthAdjust="spacingAndGlyphs" stroke="#ffffff" stroke-width="1.6" stroke-opacity="0.8" paint-order="stroke" stroke-linejoin="round">© 2025 Microsoft Corporation,</text>
<text x="804" y="150.2" font-size="6.5" fill="#47679c" textLength="51.6" lengthAdjust="spacingAndGlyphs" >© OpenStreetMap</text>
<line x1="804" y1="151.4" x2="855.6" y2="151.4" stroke="#47679c" stroke-width="0.6"/>
<text x="857.6" y="150.2" font-size="6.5" fill="#47679c" textLength="17.6" lengthAdjust="spacingAndGlyphs" >Terms</text>
<line x1="857.6" y1="151.4" x2="875.2" y2="151.4" stroke="#47679c" stroke-width="0.6"/>
</g>
</g>
</svg>
</body></html>
